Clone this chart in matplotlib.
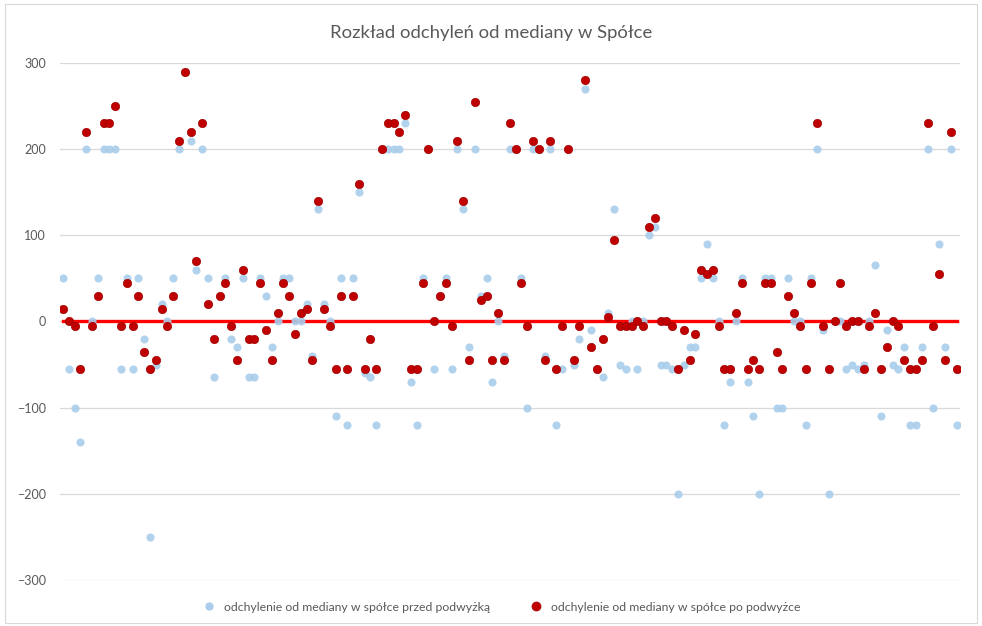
import numpy as np
import matplotlib.pyplot as plt
from matplotlib.patches import Rectangle
from matplotlib.lines import Line2D

plt.rcParams['font.family'] = ['Lato', 'DejaVu Sans']

# Dane: odchylenia od mediany (przed i po podwyżce)
przed = [50, -55, -100, -140, 200, 0, 50, 200, 200, 200,
         -55, 50, -55, 50, -20, -250, -50, 20, 0, 50,
         200, 290, 210, 60, 200, 50, -65, 30, 50, -20,
         -30, 50, -65, -65, 50, 30, -30, 0, 50, 50,
         0, 0, 20, -40, 130, 20, 0, -110, 50, -120,
         50, 150, -60, -65, -120, 200, 200, 200, 200, 230,
         -70, -120, 50, 200, -55, 30, 50, -55, 200, 130,
         -30, 200, 30, 50, -70, 0, -40, 200, 200, 50,
         -100, 200, 200, -40, 200, -120, -55, 200, -50, -20,
         270, -10, -55, -65, 10, 130, -50, -55, 0, -55,
         0, 100, 110, -50, -50, -55, -200, -50, -30, -30,
         50, 90, 50, 0, -120, -70, 0, 50, -70, -110,
         -200, 50, 50, -100, -100, 50, 0, 0, -120, 50,
         200, -10, -200, 0, 0, -55, -50, -55, -50, 0,
         65, -110, -10, -50, -55, -30, -120, -120, -30, 200,
         -100, 90, -30, 200, -120]
po = [15, 0, -5, -55, 220, -5, 30, 230, 230, 250,
      -5, 45, -5, 30, -35, -55, -45, 15, -5, 30,
      210, 290, 220, 70, 230, 20, -20, 30, 45, -5,
      -45, 60, -20, -20, 45, -10, -45, 10, 45, 30,
      -15, 10, 15, -45, 140, 15, -5, -55, 30, -55,
      30, 160, -55, -20, -55, 200, 230, 230, 220, 240,
      -55, -55, 45, 200, 0, 30, 45, -5, 210, 140,
      -45, 255, 25, 30, -45, 10, -45, 230, 200, 45,
      -5, 210, 200, -45, 210, -55, -5, 200, -45, -5,
      280, -30, -55, -20, 5, 95, -5, -5, -5, 0,
      -5, 110, 120, 0, 0, -5, -55, -10, -45, -15,
      60, 55, 60, -5, -55, -55, 10, 45, -55, -45,
      -55, 45, 45, -35, -55, 30, 10, -5, -55, 45,
      230, -5, -55, 0, 45, -5, 0, 0, -55, -5,
      10, -55, -30, 0, -5, -45, -55, -55, -45, 230,
      -5, 55, -45, 220, -55]
y_ticks = [-300, -200, -100, 0, 100, 200, 300]

nr = np.arange(1, len(przed) + 1)
mediana = np.zeros(len(przed))

fig = plt.figure(figsize=(9.82, 6.26), dpi=100)
ax = fig.add_axes([0.0611, 0.0735, 0.9165, 0.8259])

ax.plot(nr, mediana, color='#FF0000', linewidth=2.4, zorder=2)
ax.scatter(nr, przed, s=34, color='#A9CDEB', alpha=0.9, linewidths=0, zorder=3)
ax.scatter(nr, po, s=36, color='#C00000', edgecolors='#A00000', linewidths=0.5, zorder=4)

ax.set_xlim(0.5, 155.6)
ax.set_ylim(-300, 300)
ax.set_yticks(y_ticks)
ax.set_xticks([])
ax.grid(True, axis='y', color='#D9D9D9', linewidth=0.9)
ax.set_axisbelow(True)
for s in ax.spines.values():
    s.set_visible(False)
ax.tick_params(axis='y', length=0, labelsize=9, labelcolor='#595959', pad=10)

fig.text(0.5, 0.947, 'Rozkład odchyleń od mediany w Spółce', ha='center', va='center',
         fontsize=13.3, color='#595959')

# legenda
uchwyty = [Line2D([], [], marker='o', linestyle='', markersize=6, markerfacecolor='#A9CDEB',
                  markeredgewidth=0),
           Line2D([], [], marker='o', linestyle='', markersize=6.5, markerfacecolor='#C00000',
                  markeredgecolor='#A00000', markeredgewidth=0.5)]
fig.legend(uchwyty, ['odchylenie od mediany w spółce przed podwyżką',
                     'odchylenie od mediany w spółce po podwyżce'],
           loc='center', bbox_to_anchor=(0.508, 0.03), ncol=2, frameon=False,
           fontsize=8.8, labelcolor='#595959', handletextpad=0.2, columnspacing=2.8)

fig.patches.append(Rectangle((0.005, 0.005), 0.99, 0.988, transform=fig.transFigure,
                             fill=False, edgecolor='#D9D9D9', linewidth=0.8))

fig.savefig('out.png', dpi=100)
